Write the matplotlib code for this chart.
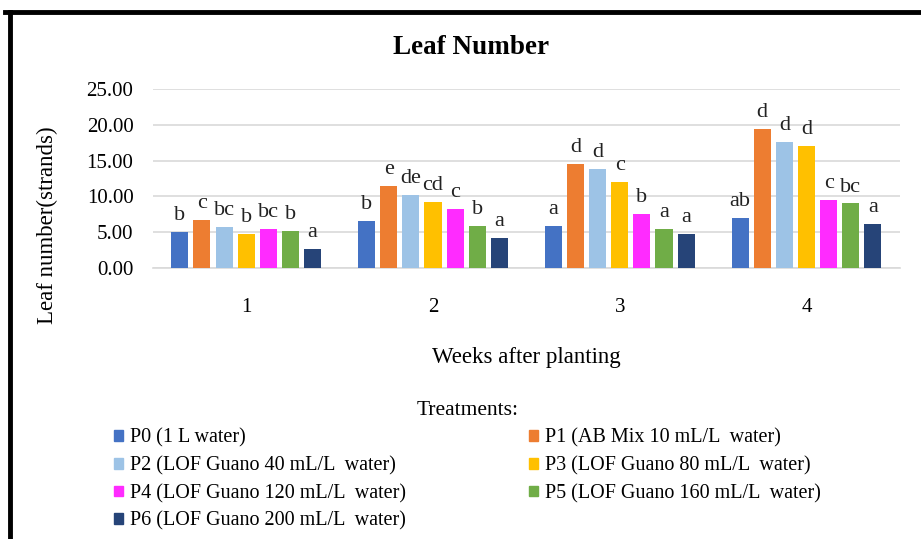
import matplotlib.pyplot as plt
import numpy as np
from matplotlib.lines import Line2D
from matplotlib.patches import Patch

plt.rcParams["font.family"] = ["Liberation Serif", "DejaVu Serif"]

weeks = ["1", "2", "3", "4"]
treatments = [
    "P0 (1 L water)",
    "P1 (AB Mix 10 mL/L  water)",
    "P2 (LOF Guano 40 mL/L  water)",
    "P3 (LOF Guano 80 mL/L  water)",
    "P4 (LOF Guano 120 mL/L  water)",
    "P5 (LOF Guano 160 mL/L  water)",
    "P6 (LOF Guano 200 mL/L  water)",
]
colors = ["#4472C4", "#ED7D31", "#9DC3E6", "#FFC000", "#FF2BFF", "#70AD47", "#264478"]

# leaf number per treatment, weeks 1..4
p0 = [5.0, 6.5, 5.9, 7.0]
p1 = [6.7, 11.5, 14.5, 19.4]
p2 = [5.7, 10.2, 13.8, 17.6]
p3 = [4.7, 9.2, 12.0, 17.0]
p4 = [5.4, 8.2, 7.5, 9.5]
p5 = [5.1, 5.9, 5.4, 9.0]
p6 = [2.65, 4.2, 4.7, 6.2]
values = [p0, p1, p2, p3, p4, p5, p6]

# significance letters per treatment, weeks 1..4
l0 = ["b", "b", "a", "ab"]
l1 = ["c", "e", "d", "d"]
l2 = ["bc", "de", "d", "d"]
l3 = ["b", "cd", "c", "d"]
l4 = ["bc", "c", "b", "c"]
l5 = ["b", "b", "a", "bc"]
l6 = ["a", "a", "a", "a"]
letters = [l0, l1, l2, l3, l4, l5, l6]

fig = plt.figure(figsize=(9.21, 5.39), dpi=100)
ax = fig.add_axes([0.166, 0.503, 0.811, 0.332])

x = np.arange(1, len(weeks) + 1)
group = 0.83
slot = group / len(treatments)
for i, (vals, col) in enumerate(zip(values, colors)):
    pos = x - group / 2 + slot * (i + 0.5)
    ax.bar(pos, vals, width=slot * 0.77, color=col, zorder=3)
    for xp, v, lab in zip(pos, vals, letters[i]):
        ax.annotate(lab, (xp, v), xytext=(0, 5), textcoords="offset points",
                    ha="center", va="bottom", fontsize=16, color="#222222")

ax.set_xlim(0.5, 4.5)
ax.set_ylim(0, 25)
ax.set_yticks(np.arange(0, 26, 5))
ax.set_yticklabels([f"{t:.2f}" for t in np.arange(0, 26, 5)], fontsize=15)
ax.set_xticks(x)
ax.set_xticklabels(weeks, fontsize=15)
ax.tick_params(length=0, pad=22, axis="x")
ax.tick_params(length=0, pad=14, axis="y")
ax.grid(axis="y", color="#d9d9d9", linewidth=1.2, zorder=0)
for s in ["top", "right", "left"]:
    ax.spines[s].set_visible(False)
ax.spines["bottom"].set_color("#d9d9d9")
ax.spines["bottom"].set_linewidth(1.2)

ax.set_xlabel("Weeks after planting", fontsize=16.5, labelpad=21)
fig.text(0.051, 0.582, "Leaf number(strands)", rotation=90, ha="center", va="center", fontsize=16.5)
fig.text(0.512, 0.911, "Leaf Number", ha="center", va="center", fontsize=19.5, fontweight="bold")

handles = [Patch(color=c, label=t) for c, t in zip(colors, treatments)]
order = [0, 2, 4, 6, 1, 3, 5]
fig.legend([handles[i] for i in order], [treatments[i] for i in order],
           ncol=2, loc="upper left", bbox_to_anchor=(0.124, 1 - 401 / 539),
           bbox_transform=fig.transFigure, frameon=False, fontsize=14.5,
           title="Treatments:", title_fontsize=15.5, handlelength=0.45,
           handleheight=0.45, handletextpad=0.35, columnspacing=6.1,
           labelspacing=0.42, borderpad=0, borderaxespad=0)

# outer frame (top and left edges visible)
fig.add_artist(Line2D([0.005, 1.0], [0.977, 0.977], color="black", linewidth=3.5, transform=fig.transFigure))
fig.add_artist(Line2D([0.011, 0.011], [0.0, 0.977], color="black", linewidth=3.5, transform=fig.transFigure))

fig.savefig("out.png", dpi=100)
